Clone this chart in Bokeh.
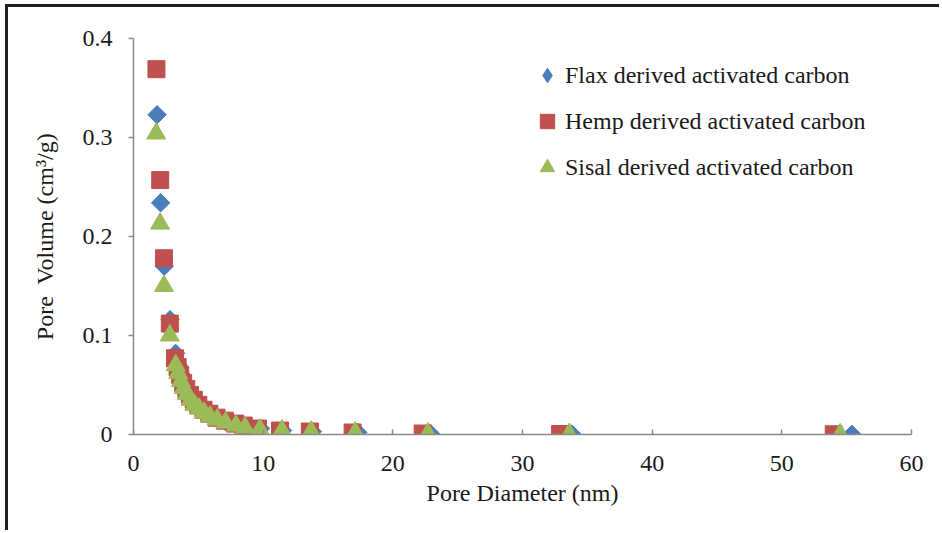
import numpy as np
from bokeh.plotting import figure
from bokeh.models import Range1d, Legend, LegendItem
from bokeh.embed import file_html
from bokeh.resources import INLINE

# ---- data ----
flax_d = [1.82, 2.09, 2.37, 2.82, 3.25, 3.45, 3.65, 3.88, 4.12, 4.40, 4.70, 5.05, 5.45,
          5.90, 6.45, 7.10, 7.90, 8.60, 9.80, 11.5, 13.8, 17.3, 22.9, 33.8, 55.4]
flax_v = [0.323, 0.234, 0.170, 0.116, 0.082, 0.070, 0.061, 0.053, 0.046, 0.040, 0.034,
          0.029, 0.024, 0.020, 0.017, 0.013, 0.010, 0.008, 0.006, 0.004, 0.003, 0.002,
          0.001, 0.0005, 0.0002]

hemp_d = [1.77, 2.06, 2.35, 2.80, 3.20, 3.40, 3.60, 3.83, 4.07, 4.35, 4.65, 5.00, 5.40,
          5.85, 6.40, 7.05, 7.85, 8.50, 9.60, 11.3, 13.6, 16.9, 22.3, 32.9, 54.0]
hemp_v = [0.369, 0.257, 0.178, 0.112, 0.077, 0.068, 0.060, 0.052, 0.046, 0.040, 0.035,
          0.030, 0.025, 0.021, 0.017, 0.014, 0.011, 0.009, 0.006, 0.004, 0.003, 0.002,
          0.001, 0.0005, 0.0002]

sisal_d = [1.75, 2.05, 2.35, 2.80, 3.25, 3.45, 3.65, 3.88, 4.12, 4.40, 4.70, 5.05, 5.45,
           5.90, 6.45, 7.10, 7.90, 8.60, 9.75, 11.45, 13.7, 17.1, 22.7, 33.6, 54.5]
sisal_v = [0.304, 0.213, 0.150, 0.100, 0.070, 0.062, 0.054, 0.047, 0.041, 0.035, 0.030,
           0.026, 0.022, 0.018, 0.015, 0.012, 0.009, 0.007, 0.005, 0.004, 0.003, 0.002,
           0.001, 0.0005, 0.0002]

series_names = ["Flax derived activated carbon",
                "Hemp derived activated carbon",
                "Sisal derived activated carbon"]

x_ticks = [0, 10, 20, 30, 40, 50, 60]
y_ticks = [0, 0.1, 0.2, 0.3, 0.4]
y_tick_labels = {0: "0", 0.1: "0.1", 0.2: "0.2", 0.3: "0.3", 0.4: "0.4"}

FONT = "Liberation Serif"
BLUE = "#4A7EBB"
RED = "#C0504D"
GREEN = "#9BBB59"

p = figure(width=934, height=526, output_backend="svg", toolbar_location=None,
           x_range=Range1d(0, 60), y_range=Range1d(0, 0.4),
           min_border_left=125, min_border_right=31, min_border_top=31,
           min_border_bottom=99)
p.styles = {"border-top": "3px solid #1e1e1e", "border-left": "3px solid #1e1e1e",
            "margin-left": "5px", "margin-top": "4px"}

p.outline_line_color = None
p.xgrid.visible = False
p.ygrid.visible = False
p.background_fill_color = "white"
p.border_fill_color = "white"

# diamond glyph used for the legend key (drawn hidden beneath the rotated squares,
# since the legend ignores a marker's angle)
r_flax_key = p.scatter(x=flax_d, y=flax_v, marker="diamond", size=16,
                       fill_color=BLUE, line_color=BLUE)
r_flax = p.scatter(x=flax_d, y=flax_v, marker="square", angle=np.pi / 4, size=13,
                   fill_color=BLUE, line_color=BLUE)
r_hemp = p.scatter(x=hemp_d, y=hemp_v, marker="square", size=17,
                   fill_color=RED, line_color=RED)
r_sisal = p.scatter(x=sisal_d, y=sisal_v, marker="triangle", size=19,
                    fill_color=GREEN, line_color=GREEN)

# axes
for ax in (p.xaxis[0], p.yaxis[0]):
    ax.axis_line_color = "#8a8a8a"
    ax.axis_line_width = 1.5
    ax.major_tick_line_color = "#8a8a8a"
    ax.major_tick_line_width = 1.5
    ax.minor_tick_line_color = None
    ax.major_label_text_font = FONT
    ax.major_label_text_font_size = "24px"
    ax.major_label_text_color = "#1a1a1a"
    ax.axis_label_text_font = FONT
    ax.axis_label_text_font_size = "24px"
    ax.axis_label_text_font_style = "normal"
    ax.axis_label_text_color = "#1a1a1a"

p.xaxis.ticker = x_ticks
p.xaxis.major_tick_in = 5
p.xaxis.major_tick_out = 0
p.xaxis.major_label_standoff = 21
p.xaxis.axis_label = "Pore Diameter (nm)"
p.xaxis.axis_label_standoff = 6

p.yaxis.ticker = y_ticks
p.yaxis.major_label_overrides = y_tick_labels
p.yaxis.major_tick_in = 0
p.yaxis.major_tick_out = 5
p.yaxis.major_label_standoff = 16
p.yaxis.axis_label = "Pore\u00a0 Volume (cm\u00b3/g)"
p.yaxis.axis_label_standoff = 22

legend = Legend(items=[LegendItem(label=series_names[0], renderers=[r_flax_key]),
                       LegendItem(label=series_names[1], renderers=[r_hemp]),
                       LegendItem(label=series_names[2], renderers=[r_sisal])],
                location=(396, 247))
legend.padding = 0
legend.margin = 0
legend.spacing = 6
legend.glyph_width = 36
legend.glyph_height = 40
legend.label_height = 40
legend.label_standoff = 0
legend.label_text_font = FONT
legend.label_text_font_size = "24px"
legend.label_text_color = "#1a1a1a"
legend.border_line_color = None
legend.background_fill_alpha = 0
p.add_layout(legend, "center")

open("out.html", "w").write(file_html(p, INLINE))
